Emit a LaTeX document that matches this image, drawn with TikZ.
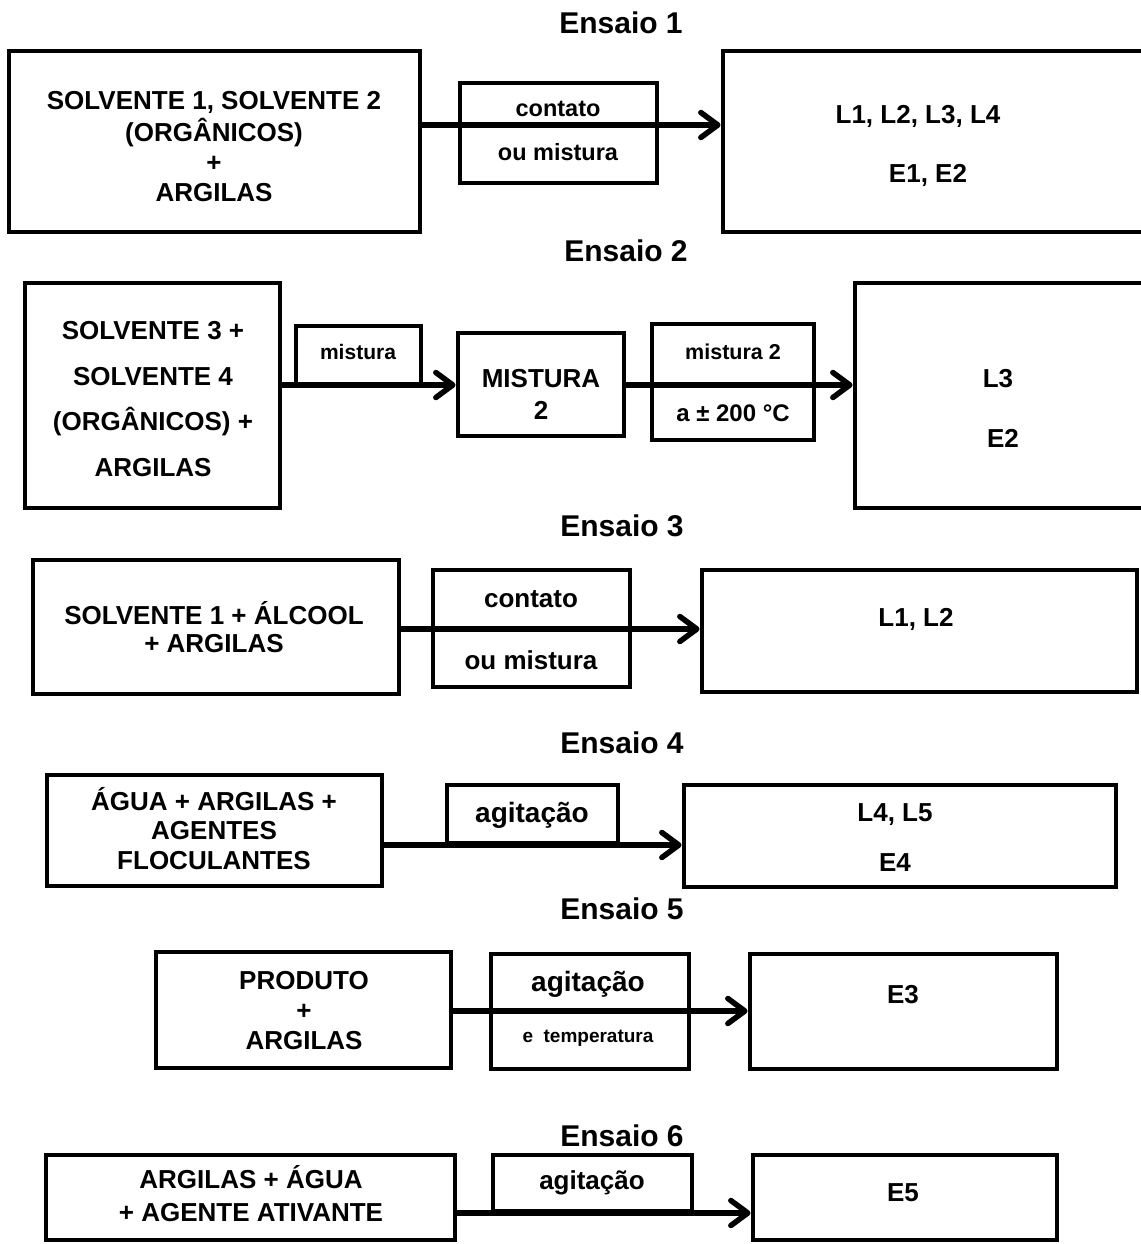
\documentclass[tikz,border=0pt]{standalone}
\usepackage{fontspec}
\setmainfont{Liberation Sans}
\usetikzlibrary{arrows.meta}
\newcommand{\myfs}[1]{\fontsize{#1}{#1}\selectfont}
\begin{document}
\begin{tikzpicture}[x=1pt,y=-1pt,
  box/.style={draw, line width=4.8pt, rectangle, inner sep=0pt},
  t/.style={anchor=base, inner sep=0pt, font=\bfseries\myfs{26}},
  ttl/.style={anchor=base, inner sep=0pt, font=\bfseries\myfs{30}},
  arr/.style={line width=5.5pt, -{Straight Barb[length=17pt,width=25pt,round]}}]
\useasboundingbox (0,0) rectangle (1140,1244);
% titles
\node[ttl] (e1) at (621,34) {Ensaio 1};
\node[ttl] (e2) at (626,261) {Ensaio 2};
\node[ttl] (e3) at (622,536) {Ensaio 3};
\node[ttl] (e4) at (622,753) {Ensaio 4};
\node[ttl] (e5) at (622,919) {Ensaio 5};
\node[ttl] (e6) at (622,1146) {Ensaio 6};
% Ensaio 1
\node[box, minimum width=411pt, minimum height=181pt] (A1) at (214.5,141.5) {};
\node[box, minimum width=197pt, minimum height=100pt] (B1) at (558.5,133) {};
\node[box, minimum width=437pt, minimum height=181pt] (C1) at (941.5,141.5) {};
\node[t] (a1a) at (214,110) {SOLVENTE 1, SOLVENTE 2};
\node[t] (a1b) at (214,141) {(ORGÂNICOS)};
\node[t] (a1c) at (214,171) {+};
\node[t] (a1d) at (214,201) {ARGILAS};
\node[t, font=\bfseries\myfs{23.5}] (b1a) at (558,117) {contato};
\node[t, font=\bfseries\myfs{23.5}] (b1b) at (558,160.5) {ou mistura};
\node[t] (c1a) at (918,124) {L1, L2, L3, L4};
\node[t] (c1b) at (928,182) {E1, E2};
\coordinate (y1) at (0,125);
\draw[arr] (A1.east |- y1) -- (C1.west |- y1);
% Ensaio 2
\node[box, minimum width=255pt, minimum height=225pt] (A2) at (152.5,395.5) {};
\node[box, minimum width=125pt, minimum height=58pt] (M1) at (358.5,355) {};
\node[box, minimum width=166pt, minimum height=103pt] (MX) at (541,384.5) {};
\node[box, minimum width=162pt, minimum height=116pt] (M2) at (733,382) {};
\node[box, minimum width=305pt, minimum height=225pt] (C2) at (1007.5,395.5) {};
\node[t] (a2a) at (153,339) {SOLVENTE 3 +};
\node[t] (a2b) at (153,385) {SOLVENTE 4};
\node[t] (a2c) at (153,430) {(ORGÂNICOS) +};
\node[t] (a2d) at (153,476) {ARGILAS};
\node[t, font=\bfseries\myfs{21}] (m1a) at (358,359) {mistura};
\node[t] (mxa) at (541,387) {MISTURA};
\node[t] (mxb) at (541,419) {2};
\node[t, font=\bfseries\myfs{21.5}] (m2a) at (733,359) {mistura 2};
\node[t, font=\bfseries\myfs{24}] (m2b) at (733,421) {a ± 200 °C};
\node[t] (c2a) at (998,387) {L3};
\node[t] (c2b) at (1003,447) {E2};
\coordinate (y2) at (0,385);
\draw[arr] (A2.east |- y2) -- (MX.west |- y2);
\draw[arr] (MX.east |- y2) -- (C2.west |- y2);
% Ensaio 3
\node[box, minimum width=366pt, minimum height=134pt] (A3) at (216,627) {};
\node[box, minimum width=197pt, minimum height=117pt] (B3) at (531.5,628.5) {};
\node[box, minimum width=435pt, minimum height=122pt] (C3) at (919.5,631) {};
\node[t] (a3a) at (214,624) {SOLVENTE 1 + ÁLCOOL};
\node[t] (a3b) at (214,652) {+ ARGILAS};
\node[t] (b3a) at (531,607) {contato};
\node[t] (b3b) at (531,669) {ou mistura};
\node[t] (c3a) at (916,626) {L1, L2};
\coordinate (y3) at (0,629);
\draw[arr] (A3.east |- y3) -- (C3.west |- y3);
% Ensaio 4
\node[box, minimum width=335pt, minimum height=111pt] (A4) at (214.5,830.5) {};
\node[box, minimum width=171pt, minimum height=58pt] (G4) at (532.5,814) {};
\node[box, minimum width=432pt, minimum height=102pt] (C4) at (900,836) {};
\node[t] (a4a) at (214,810) {ÁGUA + ARGILAS +};
\node[t] (a4b) at (214,839) {AGENTES};
\node[t] (a4c) at (214,869) {FLOCULANTES};
\node[t, font=\bfseries\myfs{28}] (g4a) at (532,822) {agitação};
\node[t] (c4a) at (895,821) {L4, L5};
\node[t] (c4b) at (895,871) {E4};
\coordinate (y4) at (0,845);
\draw[arr] (A4.east |- y4) -- (C4.west |- y4);
% Ensaio 5
\node[box, minimum width=295pt, minimum height=116pt] (A5) at (303.5,1010) {};
\node[box, minimum width=198pt, minimum height=115pt] (B5) at (590,1011.5) {};
\node[box, minimum width=307pt, minimum height=115pt] (C5) at (903.5,1011.5) {};
\node[t] (a5a) at (304,989) {PRODUTO};
\node[t] (a5b) at (304,1019) {+};
\node[t] (a5c) at (304,1049) {ARGILAS};
\node[t, font=\bfseries\myfs{28}] (b5a) at (588,991) {agitação};
\node[t, font=\bfseries\myfs{19}] (b5b) at (588,1042) {e\ \ temperatura};
\node[t] (c5a) at (903,1003) {E3};
\coordinate (y5) at (0,1011);
\draw[arr] (A5.east |- y5) -- (C5.west |- y5);
% Ensaio 6
\node[box, minimum width=409pt, minimum height=85pt] (A6) at (250.5,1197.5) {};
\node[box, minimum width=199pt, minimum height=56pt] (G6) at (592.5,1183) {};
\node[box, minimum width=304pt, minimum height=85pt] (C6) at (905,1197.5) {};
\node[t] (a6a) at (251,1188) {ARGILAS + ÁGUA};
\node[t] (a6b) at (251,1221) {+ AGENTE ATIVANTE};
\node[t] (g6a) at (592,1189) {agitação};
\node[t] (c6a) at (903,1201) {E5};
\coordinate (y6) at (0,1213);
\draw[arr] (A6.east |- y6) -- (C6.west |- y6);
\end{tikzpicture}
\end{document}
